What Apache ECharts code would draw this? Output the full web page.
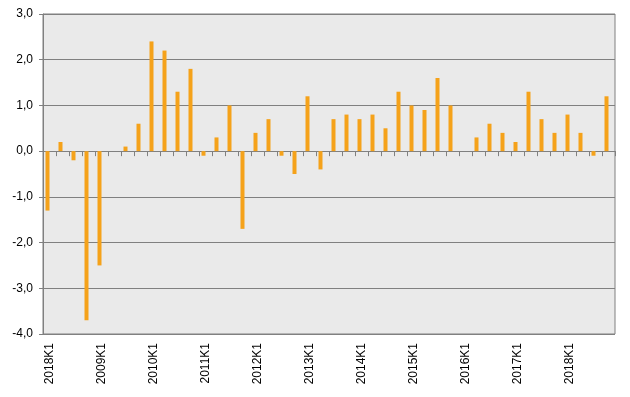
<!DOCTYPE html>
<html>
<head>
<meta charset="utf-8">
<script src="https://cdn.jsdelivr.net/npm/echarts@6/dist/echarts.min.js"></script>
<style>
  html, body { margin: 0; padding: 0; background: #fff; }
  #chart { width: 630px; height: 397px; }
</style>
</head>
<body>
<div id="chart"></div>
<script>
// quarters, first label is kept as in the original picture
var quarters = [
  '2018K1', '2008K2', '2008K3', '2008K4',
  '2009K1', '2009K2', '2009K3', '2009K4',
  '2010K1', '2010K2', '2010K3', '2010K4',
  '2011K1', '2011K2', '2011K3', '2011K4',
  '2012K1', '2012K2', '2012K3', '2012K4',
  '2013K1', '2013K2', '2013K3', '2013K4',
  '2014K1', '2014K2', '2014K3', '2014K4',
  '2015K1', '2015K2', '2015K3', '2015K4',
  '2016K1', '2016K2', '2016K3', '2016K4',
  '2017K1', '2017K2', '2017K3', '2017K4',
  '2018K1', '2018K2', '2018K3', '2018K4'
];
var values = [
  -1.3, 0.2, -0.2, -3.7,
  -2.5, 0.0, 0.1, 0.6,
  2.4, 2.2, 1.3, 1.8,
  -0.1, 0.3, 1.0, -1.7,
  0.4, 0.7, -0.1, -0.5,
  1.2, -0.4, 0.7, 0.8,
  0.7, 0.8, 0.5, 1.3,
  1.0, 0.9, 1.6, 1.0,
  0.0, 0.3, 0.6, 0.4,
  0.2, 1.3, 0.7, 0.4,
  0.8, 0.4, -0.1, 1.2
];
var yMin = -4, yMax = 3, yStep = 1;

var font = '"Liberation Sans", Arial, sans-serif';
var grey = '#808080';

var chart = echarts.init(document.getElementById('chart'));
chart.setOption({
  animation: false,
  grid: {
    left: 43, right: 15, top: 14, bottom: 63,
    show: true,
    backgroundColor: '#EAEAEA',
    borderColor: grey,
    borderWidth: 1
  },
  xAxis: [
    {
      // axis line with ticks, sitting on zero
      type: 'category',
      data: quarters,
      axisLine: { onZero: true, lineStyle: { color: grey, width: 1 } },
      axisTick: { show: true, interval: 0, length: 5, lineStyle: { color: grey } },
      axisLabel: { show: false },
      splitLine: { show: false }
    },
    {
      // labels at the bottom of the plot
      type: 'category',
      data: quarters,
      position: 'bottom',
      axisLine: { show: false, onZero: false },
      axisTick: { show: false },
      axisLabel: {
        interval: 3,
        rotate: 90,
        margin: 9,
        color: '#000',
        fontFamily: font,
        fontSize: 12
      },
      splitLine: { show: false }
    }
  ],
  yAxis: {
    type: 'value',
    min: yMin,
    max: yMax,
    interval: yStep,
    axisLine: { show: true, lineStyle: { color: grey } },
    axisTick: { show: true, length: 4, lineStyle: { color: grey } },
    axisLabel: {
      margin: 10,
      color: '#000',
      fontFamily: font,
      fontSize: 12,
      formatter: function (v) { return v.toFixed(1).replace('.', ','); }
    },
    splitLine: { show: true, lineStyle: { color: grey, width: 1 } }
  },
  series: [
    {
      type: 'bar',
      xAxisIndex: 0,
      data: values,
      barWidth: 4,
      barGap: 0,
      itemStyle: { color: '#F5A21A' }
    },
    {
      // empty slot, pushes the bars a little left like the original
      type: 'bar',
      xAxisIndex: 0,
      data: [],
      barWidth: 4
    }
  ]
});
</script>
</body>
</html>
